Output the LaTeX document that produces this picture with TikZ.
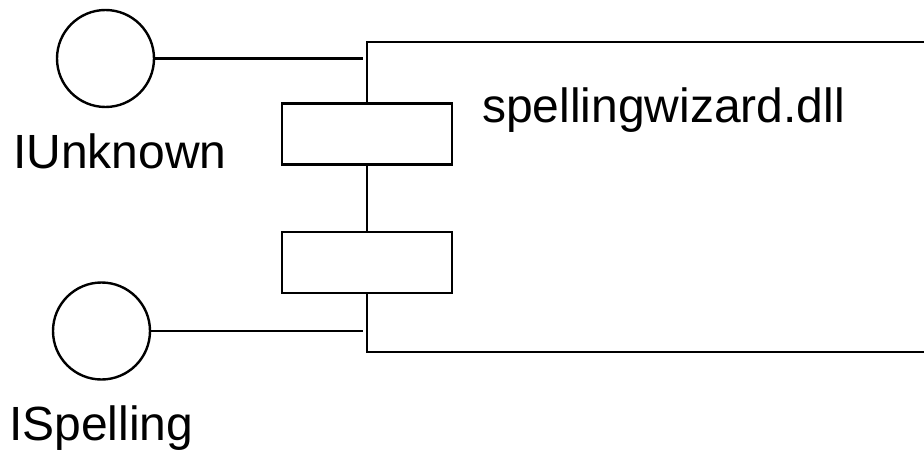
\documentclass[tikz,border=0pt]{standalone}
\usepackage{fontspec}
\setmainfont{Liberation Sans}
\begin{document}
\begin{tikzpicture}[x=1pt,y=-1pt,
  ln/.style={line width=2.4pt,black},
  iface/.style={circle,draw,ln,minimum size=97pt,inner sep=0pt,fill=white},
  port/.style={rectangle,draw,ln,minimum width=170pt,minimum height=61pt,inner sep=0pt,fill=white},
  comp/.style={rectangle,draw,ln,fill=white,inner sep=0pt},
  lbl/.style={inner sep=0pt,anchor=base west,font=\fontsize{48pt}{50pt}\selectfont}]
\useasboundingbox (0,0) rectangle (924,452);
\clip (0,0) rectangle (924,452);
\fill[white] (0,0) rectangle (924,452);
% component body (extends beyond the right edge)
\node[comp,minimum width=600pt,minimum height=310pt,anchor=north west] (comp) at (366,41) {};
% ports
\node[port] (p1) at (367,134) {};
\node[port] (p2) at (367,262.5) {};
% interfaces
\node[iface] (iu) at (105.5,58.5) {};
\node[iface] (isp) at (101.5,331) {};
\coordinate (e1) at (363,58.5);
\coordinate (e2) at (363,331);
\draw[ln] (iu.east) -- (e1);
\draw[ln] (isp.east) -- (e2);
% labels
\node[lbl] (tu) at (13,168) {IUnknown};
\node[lbl] (ts) at (9,440) {ISpelling};
\node[lbl] (tc) at (482,122) {spellingwizard.dll};
\end{tikzpicture}
\end{document}
